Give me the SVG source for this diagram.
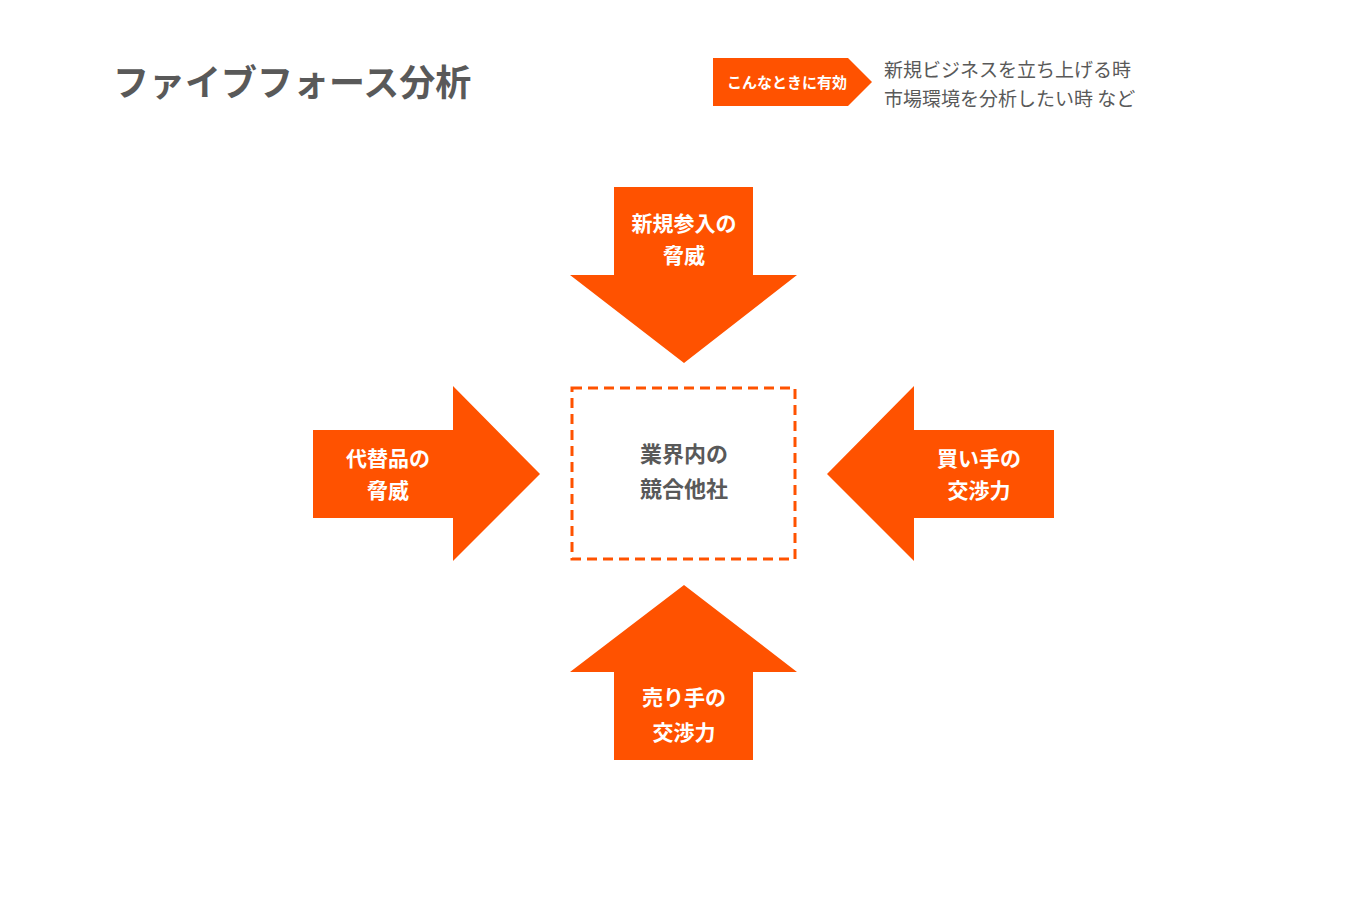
<svg xmlns="http://www.w3.org/2000/svg" width="1360" height="900" viewBox="0 0 1360 900">
<style>
text{font-family:"Noto Sans CJK JP","Noto Sans",sans-serif}
.a{fill:#ff5200}
.w{fill:#fff;font-weight:700;font-size:21px;text-anchor:middle}
.g{fill:#595959}
</style>
<rect width="1360" height="900" fill="#fff"/>
<g id="title"><text x="113" y="96" class="g" font-size="36" font-weight="700">ファイブフォース分析</text></g>
<g id="badge"><polygon class="a" points="713,58 848,58 872,82 848,106 713,106"/>
<text x="787" y="88" fill="#fff" font-size="15" font-weight="700" text-anchor="middle">こんなときに有効</text>
<text x="884" y="77" class="g" font-size="19">新規ビジネスを立ち上げる時</text>
<text x="884" y="106" class="g" font-size="19">市場環境を分析したい時 など</text></g>
<g id="connectors"></g>
<g id="top"><polygon class="a" points="614,187 753,187 753,275 797,275 684,363 570,275 614,275"/>
<text x="684" y="231" class="w">新規参入の</text><text x="684" y="263" class="w">脅威</text></g>
<g id="left"><polygon class="a" points="313,430 453,430 453,386 540,474 453,561 453,518 313,518"/>
<text x="388" y="466" class="w">代替品の</text><text x="388" y="498" class="w">脅威</text></g>
<g id="right"><polygon class="a" points="1054,430 914,430 914,386 827,474 914,561 914,518 1054,518"/>
<text x="979" y="466" class="w">買い手の</text><text x="979" y="498" class="w">交渉力</text></g>
<g id="bottom"><polygon class="a" points="614,760 753,760 753,672 797,672 684,585 570,672 614,672"/>
<text x="684" y="705" class="w" font-size="23">売り手の</text><text x="684" y="740" class="w" font-size="23">交渉力</text></g>
<g id="center"><rect x="572" y="388" width="223" height="171" fill="none" stroke="#ff5200" stroke-width="3" stroke-dasharray="10,6"/>
<text x="684" y="462" class="g" font-size="22" font-weight="700" text-anchor="middle">業界内の</text>
<text x="684" y="497" class="g" font-size="22" font-weight="700" text-anchor="middle">競合他社</text></g>
</svg>
